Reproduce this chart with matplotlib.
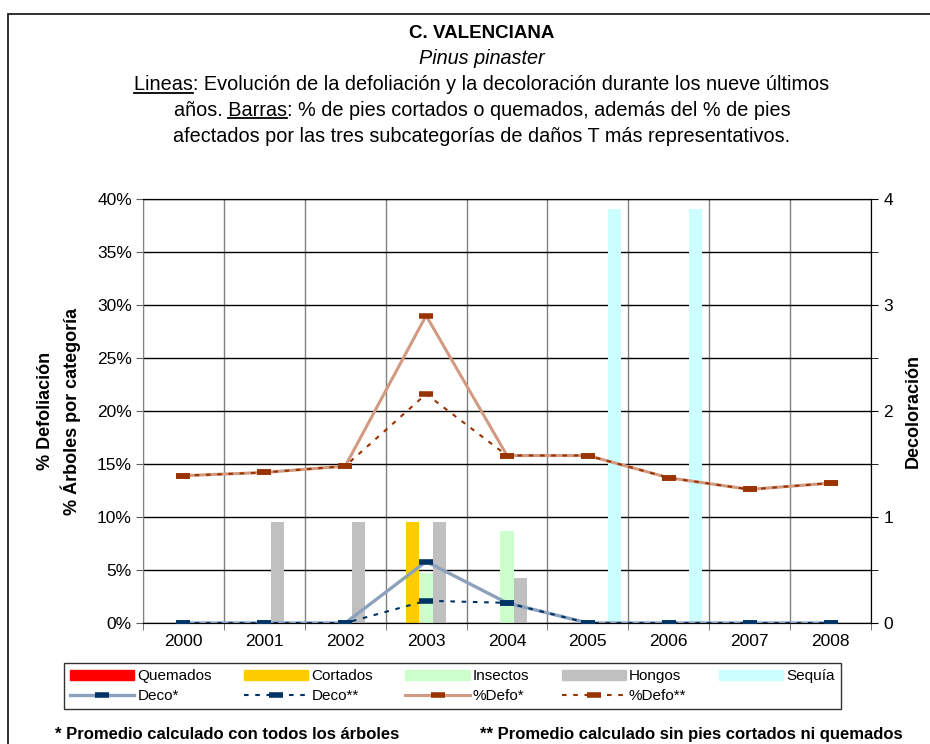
import numpy as np
import matplotlib
matplotlib.use("Agg")
import matplotlib.pyplot as plt
from matplotlib.lines import Line2D
from matplotlib.patches import Patch, Rectangle
from matplotlib.ticker import MultipleLocator, FuncFormatter

plt.rcParams['font.family'] = ['Liberation Sans', 'DejaVu Sans']

# data
years = ['2000', '2001', '2002', '2003', '2004', '2005', '2006', '2007', '2008']
quemados = [0, 0, 0, 0, 0, 0, 0, 0, 0]
cortados = [0, 0, 0, 9.5, 0, 0, 0, 0, 0]
insectos = [0, 0, 0, 4.7, 8.7, 0, 0, 0, 0]
hongos = [0, 9.5, 9.5, 9.5, 4.2, 0, 0, 0, 0]
sequia = [0, 0, 0, 0, 0, 39.1, 39.1, 0, 0]
deco_todos = [0, 0, 0, 0.58, 0.19, 0, 0, 0, 0]
deco_sin = [0, 0, 0, 0.21, 0.19, 0, 0, 0, 0]
defo_todos = [13.9, 14.2, 14.8, 29.0, 15.8, 15.8, 13.7, 12.6, 13.2]
defo_sin = [13.9, 14.2, 14.8, 21.6, 15.8, 15.8, 13.7, 12.6, 13.2]

bar_names = ['Quemados', 'Cortados', 'Insectos', 'Hongos', 'Sequía']
bar_colors = ['#FF0000', '#FFCC00', '#CCFFCC', '#C0C0C0', '#CCFFFF']
bar_data = [quemados, cortados, insectos, hongos, sequia]

W, H = 930, 744
fig = plt.figure(figsize=(W / 100, H / 100), dpi=100)

# outer frame (runs off the right/bottom edge like the original)
fig.add_artist(Rectangle((8 / W, -0.05), 1.0, 1 - 14 / H + 0.05,
                         transform=fig.transFigure, fill=False,
                         edgecolor='#202020', lw=1.3))

ax = fig.add_axes([143 / W, 121 / H, 728 / W, 424 / H])
x = np.arange(len(years))
bw = 0.164
for i, (vals, col) in enumerate(zip(bar_data, bar_colors)):
    ax.bar(x + (i - 2) * bw, vals, bw, color=col, zorder=2)

dots = (0, (2.2, 3.2))
ax.plot(x, defo_todos, color='#D29A80', lw=2.2, marker='_', ms=10, mew=4,
        mec='#993300', zorder=4)
ax.plot(x, defo_sin, color='#993300', lw=1.5, ls=dots, marker='_', ms=10,
        mew=4, mec='#993300', zorder=4)

ax.set_xlim(-0.5, 8.5)
ax.set_ylim(0, 40)
ax.set_axisbelow(True)
ax.yaxis.set_major_locator(MultipleLocator(5))
ax.yaxis.set_major_formatter(FuncFormatter(lambda v, p: '%d%%' % v))
ax.set_xticks(x)
ax.set_xticklabels(years)
ax.set_xticks(np.arange(-0.5, 9, 1), minor=True)
ax.tick_params(axis='x', which='major', length=0, labelsize=12.5, pad=8)
ax.tick_params(axis='x', which='minor', length=5, direction='out', color='#606060')
ax.tick_params(axis='y', length=5, direction='out', color='#606060',
               labelsize=12.5, pad=3)
ax.grid(axis='y', which='major', color='black', lw=1)
ax.grid(axis='x', which='minor', color='#808080', lw=1)
ax.spines['left'].set_color('#808080')
for s in ['top', 'bottom']:
    ax.spines[s].set_color('black')

ax2 = ax.twinx()
ax2.plot(x, deco_todos, color='#8CA2BC', lw=2.4, marker='_', ms=10, mew=4,
         mec='#003366', zorder=4)
ax2.plot(x, deco_sin, color='#003366', lw=1.5, ls=dots, marker='_', ms=10,
         mew=4, mec='#003366', zorder=4)
ax2.set_ylim(0, 4)
ax2.yaxis.set_major_locator(MultipleLocator(1))
ax2.yaxis.set_minor_locator(MultipleLocator(0.5))
ax2.tick_params(axis='y', which='both', length=5, direction='out',
                color='black', labelsize=12.5, pad=4)
ax2.spines['right'].set_color('black')
ax2.spines['left'].set_visible(False)

# axis titles
yc = 1 - 411 / H
fig.text(45 / W, yc, '% Defoliación', rotation=90, ha='center', va='center',
         fontsize=13, fontweight='bold')
fig.text(71 / W, yc, '% Árboles por categoría', rotation=90, ha='center',
         va='center', fontsize=13, fontweight='bold')
fig.text(913 / W, yc, 'Decoloración', rotation=90, ha='center', va='center',
         fontsize=13, fontweight='bold')

# title block
cx = 482 / W
fig.text(cx, 1 - 34 / H, 'C. VALENCIANA', ha='center', va='center',
         fontsize=13.5, fontweight='bold')
fig.text(cx, 1 - 59 / H, 'Pinus pinaster', ha='center', va='center',
         fontsize=14.3, style='italic')
l1 = fig.text(cx, 1 - 85 / H, 'Lineas: Evolución de la defoliación y la decoloración durante los nueve últimos',
              ha='center', va='center', fontsize=14.3)
l2 = fig.text(cx, 1 - 110 / H, 'años. Barras: % de pies cortados o quemados, además del % de pies',
              ha='center', va='center', fontsize=14.3)
fig.text(cx, 1 - 136 / H, 'afectados por las tres subcategorías de daños T más representativos.',
         ha='center', va='center', fontsize=14.3)

renderer = fig.canvas.get_renderer()


def underline(t, before, word):
    prop = t.get_fontproperties()
    bb = t.get_window_extent(renderer)
    full_w, full_h, full_d = renderer.get_text_width_height_descent(t.get_text(), prop, ismath=False)
    w0 = renderer.get_text_width_height_descent(before, prop, ismath=False)[0] if before else 0
    w1 = renderer.get_text_width_height_descent(before + word, prop, ismath=False)[0]
    base = bb.y0 + full_d
    yy = (base - 2.5) / H
    fig.add_artist(Line2D([(bb.x0 + w0) / W, (bb.x0 + w1) / W], [yy, yy],
                          transform=fig.transFigure, color='black', lw=1.3))


underline(l1, '', 'Lineas')
underline(l2, 'años. ', 'Barras')

# legend
handles = [
    Patch(color=bar_colors[0]),
    Line2D([], [], color='#8CA2BC', lw=2.4, marker='_', ms=10, mew=4, mec='#003366'),
    Patch(color=bar_colors[1]),
    Line2D([], [], color='#003366', lw=1.5, ls=dots, marker='_', ms=10, mew=4, mec='#003366'),
    Patch(color=bar_colors[2]),
    Line2D([], [], color='#D29A80', lw=2.2, marker='_', ms=10, mew=4, mec='#993300'),
    Patch(color=bar_colors[3]),
    Line2D([], [], color='#993300', lw=1.5, ls=dots, marker='_', ms=10, mew=4, mec='#993300'),
    Patch(color=bar_colors[4]),
]
labels = ['Quemados', 'Deco*', 'Cortados', 'Deco**', 'Insectos', '%Defo*',
          'Hongos', '%Defo**', 'Sequía']
leg = fig.legend(handles, labels, ncol=5, loc='upper left',
                 bbox_to_anchor=(64 / W, 1 - 663 / H), fontsize=11,
                 frameon=True, fancybox=False, edgecolor='black',
                 handlelength=4.2, handleheight=0.65, handletextpad=0.2,
                 columnspacing=2.12, borderpad=0.4, labelspacing=0.4,
                 borderaxespad=0)
leg.get_frame().set_linewidth(1)

# footnotes
fig.text(55 / W, 2 / H, '* Promedio calculado con todos los árboles',
         ha='left', va='bottom', fontsize=12, fontweight='bold')
fig.text(480 / W, 2 / H, '** Promedio calculado sin pies cortados ni quemados',
         ha='left', va='bottom', fontsize=12, fontweight='bold')

fig.savefig('out.png', dpi=100)
